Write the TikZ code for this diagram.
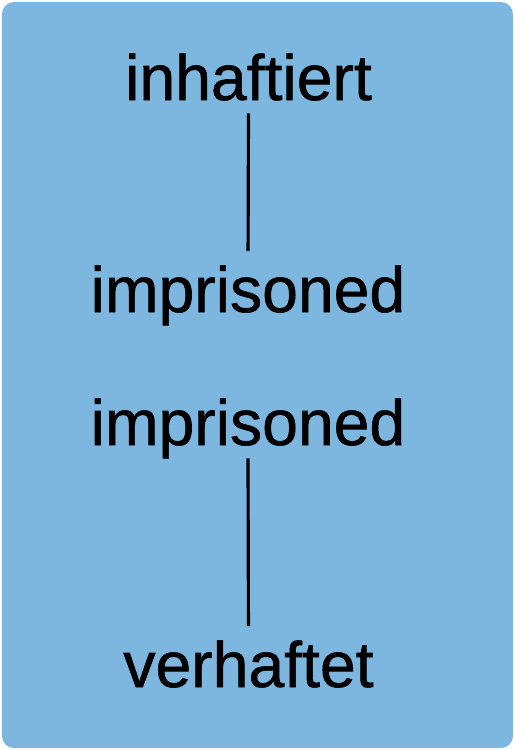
\documentclass[tikz,border=0pt]{standalone}
\usepackage{fontspec}
\newfontfamily\wordfont[FakeBold=0.9]{Liberation Sans}
\definecolor{panelblue}{RGB}{125,183,224}
\begin{document}
\begin{tikzpicture}[
      word/.style={font=\wordfont\fontsize{36.6}{42}\selectfont,inner sep=0pt,anchor=base,
        text height=.89cm,text depth=.26cm},
      link/.style={line width=1.8pt,shorten >=.32cm}]
    \useasboundingbox (0,0) rectangle (10.3,-15);
    \fill[panelblue,rounded corners=.24cm] (.04,-.04) rectangle (10.26,-14.96);
    \node[word] (de1) at (4.97,-2.0) {inhaftiert};
    \node[word] (en1) at (4.96,-6.24) {imprisoned};
    \node[word] (en2) at (4.96,-8.9) {imprisoned};
    \node[word] (de2) at (4.97,-13.74) {verhaftet};
    \draw[link] (de1.south) -- (en1.north);
    \draw[link] (en2.south) -- (de2.north);
  \end{tikzpicture}
\end{document}
